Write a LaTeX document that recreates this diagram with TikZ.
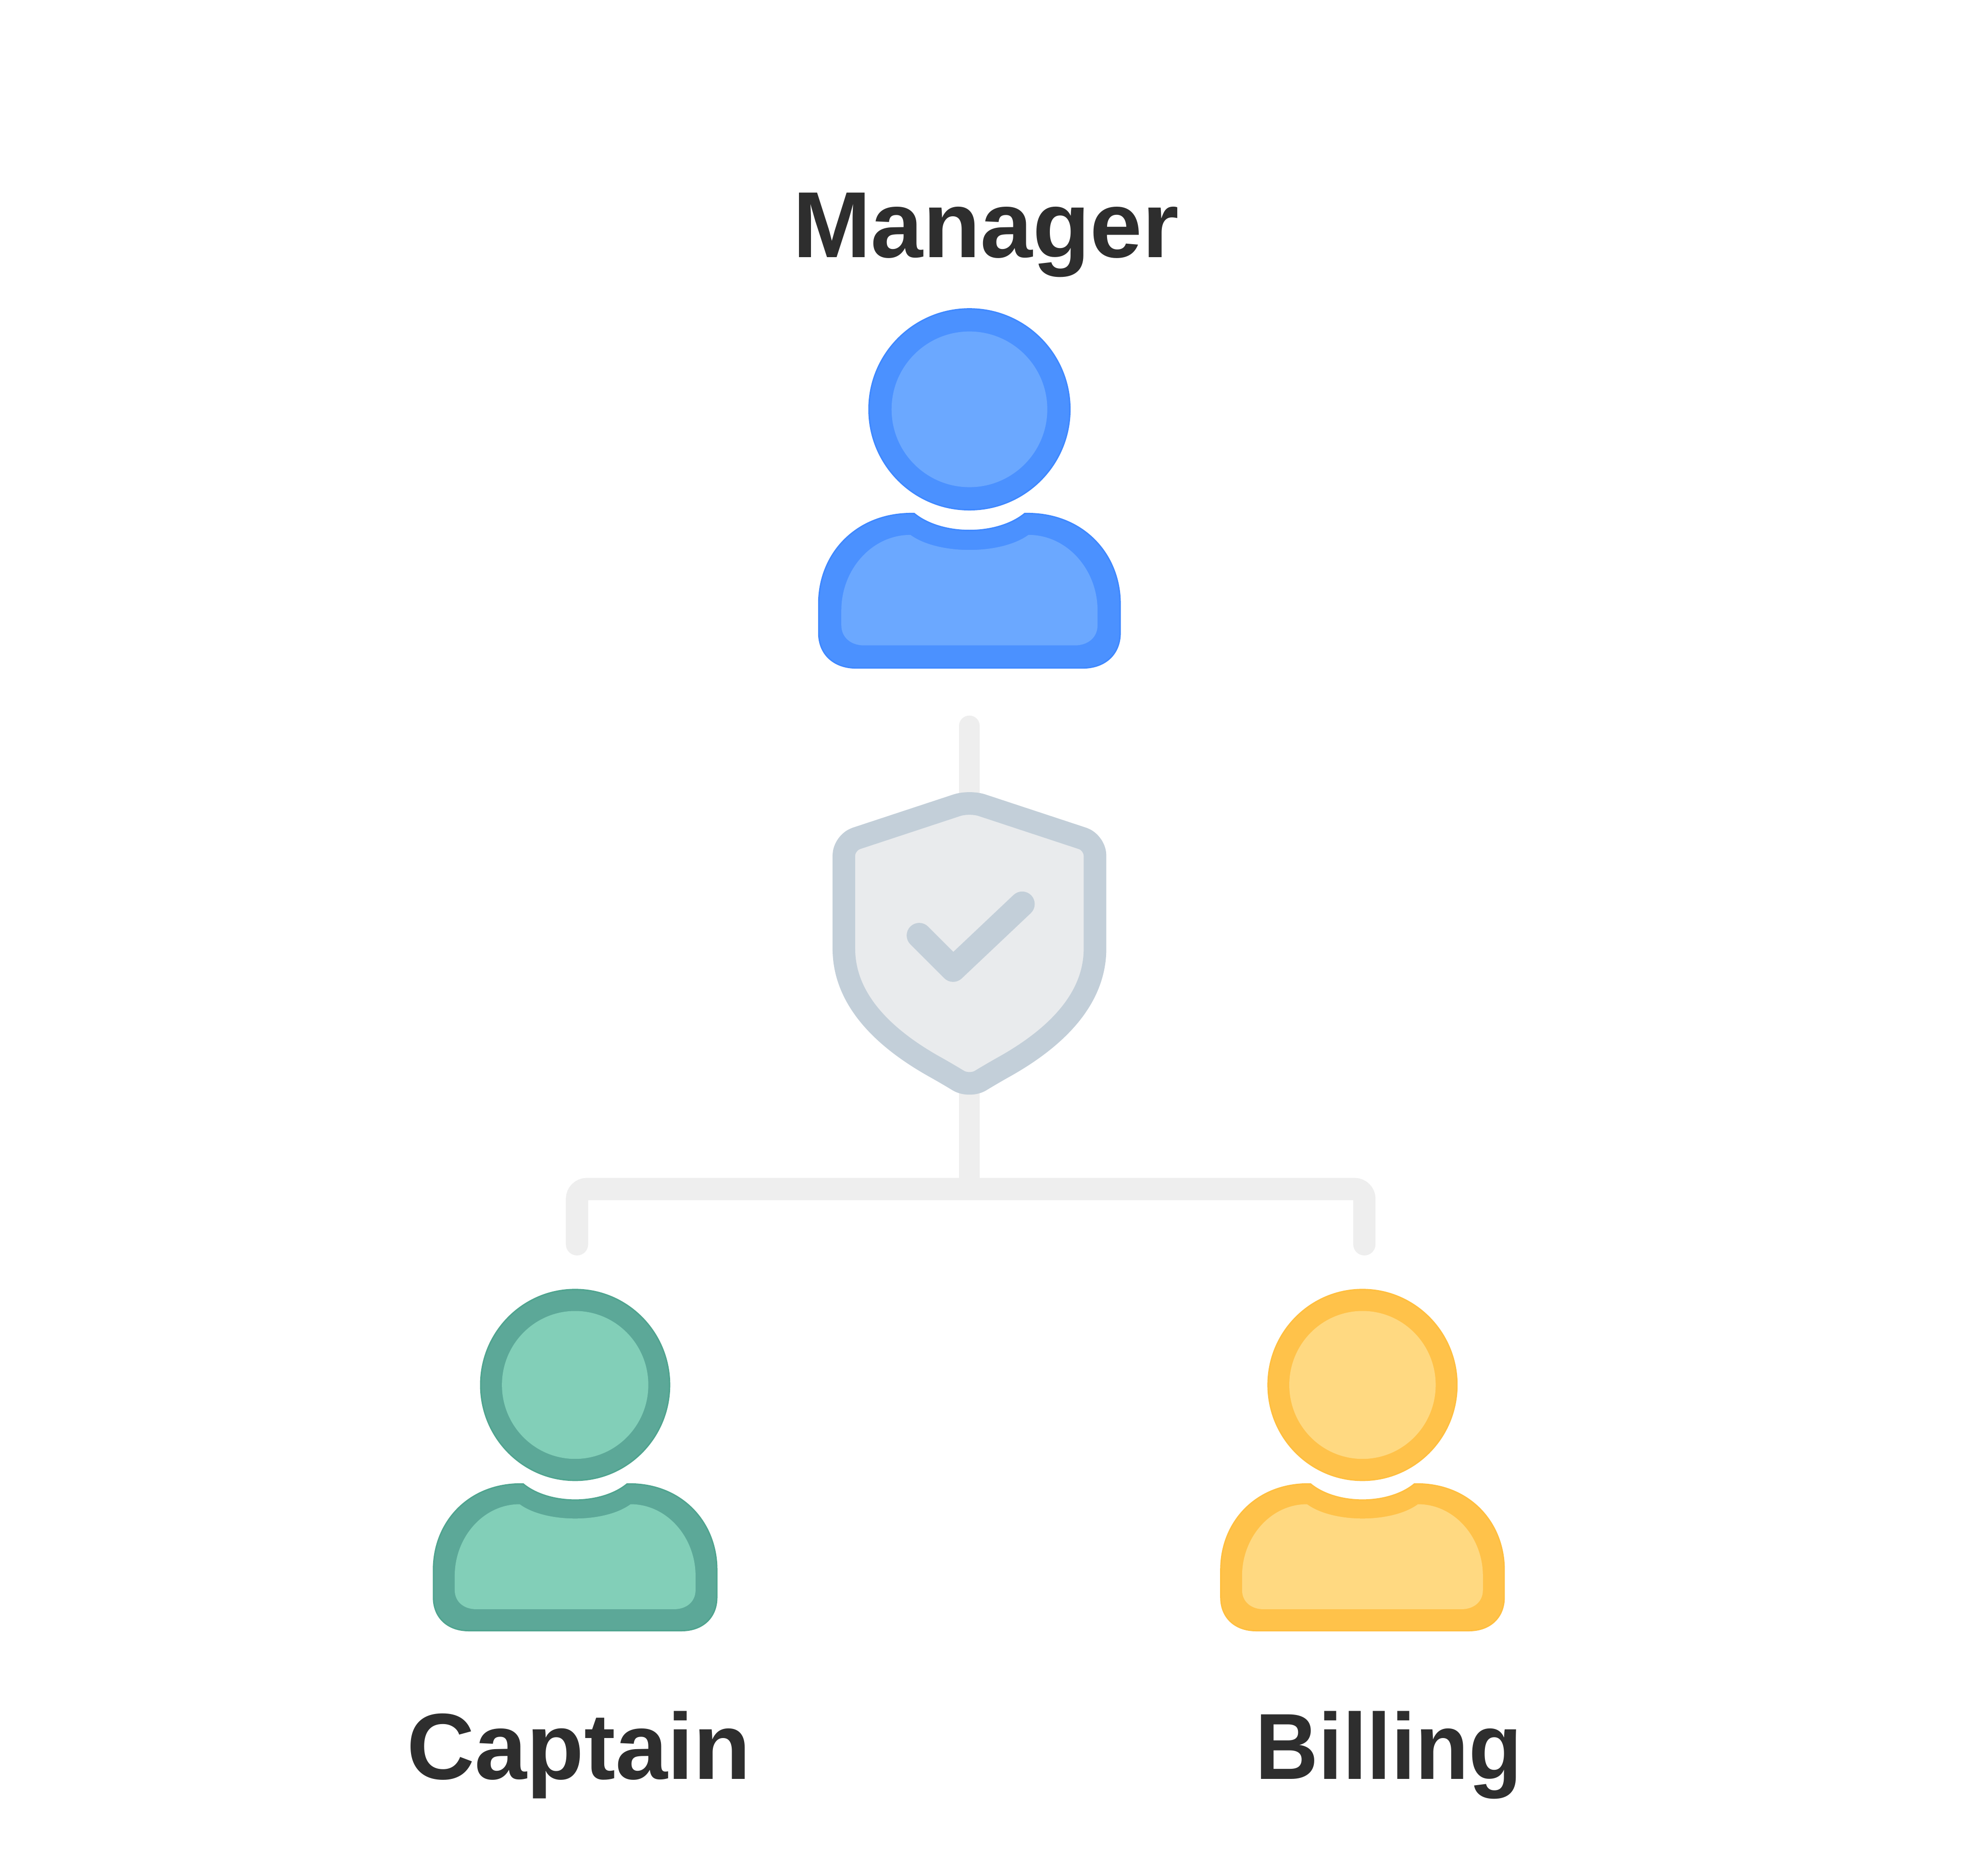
\documentclass[tikz,border=0pt]{standalone}
\usepackage{fontspec}
\setmainfont{Liberation Sans}
\definecolor{blueRim}{HTML}{3F88FF}
\definecolor{blueDark}{HTML}{4B91FF}
\definecolor{blueLight}{HTML}{6BA8FF}
\definecolor{greenRim}{HTML}{4FA48F}
\definecolor{greenDark}{HTML}{5CA898}
\definecolor{greenLight}{HTML}{82CFB8}
\definecolor{yellowRim}{HTML}{FFBF40}
\definecolor{yellowDark}{HTML}{FFC24A}
\definecolor{yellowLight}{HTML}{FFD981}
\definecolor{lineGrey}{HTML}{EEEEEE}
\definecolor{shieldEdge}{HTML}{C3CFD9}
\definecolor{shieldFill}{HTML}{E9EBED}
\definecolor{labelInk}{HTML}{2E2E2E}
\begin{document}
\begin{tikzpicture}
[x=0.02704cm,y=-0.02704cm,
  lineDecorate/.style={-,draw=lineGrey,line width=0.44cm,line cap=round,rounded corners=6},%
  labelDecorate/.style={anchor=base,inner sep=0pt,text=labelInk,font=\fontsize{57.5}{60}\selectfont\bfseries},
  shieldDecorate/.style={draw=shieldEdge,fill=shieldFill,line width=0.487cm,line join=round,rounded corners=8},
  checkDecorate/.style={draw=shieldEdge,line width=0.54cm,line cap=round,line join=round},
  pics/personIcon/.style n args={3}{code={
    \path[draw=#1,line width=0.03cm,fill=#2] (0,0) circle [radius=80];
    \path[fill=#3] (0,0) circle [radius=62];
    \path[draw=#1,line width=0.03cm,fill=#2] (-44,83) .. controls (-22,101) and (22,101) .. (44,83)
      .. controls (90,82) and (120,115) .. (120,155) -- (120,178)
      .. controls (120,195) and (108,206) .. (90,206) -- (-90,206)
      .. controls (-108,206) and (-120,195) .. (-120,178) -- (-120,155)
      .. controls (-120,115) and (-90,82) .. (-44,83) -- cycle;
    \path[fill=#3] (-47,100) .. controls (-25,116) and (25,116) .. (47,100)
      .. controls (78,100) and (102,128) .. (102,160) -- (102,172)
      .. controls (102,182) and (94,188) .. (84,188) -- (-84,188)
      .. controls (-94,188) and (-102,182) .. (-102,172) -- (-102,160)
      .. controls (-102,128) and (-78,100) .. (-47,100) -- cycle;
  }}]
\useasboundingbox (0,0) rectangle (1568,1494);
%% ends and corners of the lines
\foreach \nodename/\x/\y in {
  managerEnd/772/578, shieldTop/772/640, shieldBottom/772/865, busJoin/772/947,
  captainCorner/459.5/947, billingCorner/1086.5/947, captainEnd/459.5/991, billingEnd/1086.5/991}
{
  \coordinate (\nodename) at (\x,\y);
}
%% lines
\draw[lineDecorate] (managerEnd) -- (shieldTop);
\draw[lineDecorate] (shieldBottom) -- (busJoin);
\draw[lineDecorate,line width=0.48cm] (captainEnd) -- (captainCorner) -- (billingCorner) -- (billingEnd);
%% shield
\draw[shieldDecorate] (772,638) -- (872,671) -- (872,745)
  .. controls (872,795) and (842,826) .. (790,855) -- (772,866) -- (754,855)
  .. controls (702,826) and (672,795) .. (672,745) -- (672,671) -- cycle;
\draw[checkDecorate] (732,745) -- (759,772) -- (814,720);
%% people
\pic (manager) at (772,326) {personIcon={blueRim}{blueDark}{blueLight}};
\pic[xscale=0.94,yscale=0.95] (captain) at (458,1103) {personIcon={greenRim}{greenDark}{greenLight}};
\pic[xscale=0.94,yscale=0.95] (billing) at (1085,1103) {personIcon={yellowRim}{yellowDark}{yellowLight}};
%% labels
\node (managerLabel) at (785,205) [labelDecorate] {Manager};
\node (captainLabel) at (461,1417) [labelDecorate] {Captain};
\node (billingLabel) at (1106,1417) [labelDecorate,xscale=0.93,transform shape] {Billing};
\end{tikzpicture}
\end{document}
